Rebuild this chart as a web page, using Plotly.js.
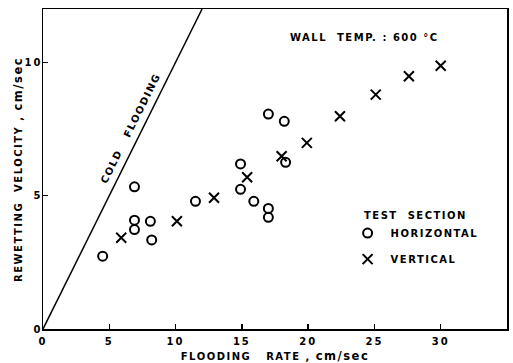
<!DOCTYPE html>
<html><head><meta charset="utf-8">
<script src="https://cdn.plot.ly/plotly-3.0.1.min.js"></script>
<style>
body{margin:0;padding:0;background:#fff}#chart{width:513px;height:363px}
.xtitle,.ytitle,.annotation-text,.legendtext{letter-spacing:1.5px}
.xtick text,.ytick text{letter-spacing:2px}
</style>
</head><body><div id="chart"></div>
<script>
// Data
const horizX = [4.5, 6.9, 6.9, 6.9, 8.1, 8.2, 11.5, 14.9, 14.9, 15.9, 17.0, 18.2, 18.3, 17.0, 17.0];
const horizY = [2.73, 5.33, 4.08, 3.73, 4.04, 3.34, 4.79, 6.19, 5.24, 4.79, 8.06, 7.79, 6.25, 4.52, 4.19];
const vertX = [5.9, 10.1, 12.9, 15.4, 18.0, 19.9, 22.4, 25.1, 27.6, 30.0];
const vertY = [3.42, 4.04, 4.92, 5.69, 6.48, 6.98, 7.98, 8.79, 9.48, 9.87];
const coldX = [0, 12];
const coldY = [0, 12];
const xTicks = [0, 5, 10, 15, 20, 25, 30, 35];
const yTicks = [0, 5, 10];

const F = 'DejaVu Sans, Arial, sans-serif';
const bold10 = {family: F, size: 10, color: '#000', weight: 'bold'};
const unit = '<span style="font-size:11.5px">cm/sec</span>';
const traces = [
  {x: coldX, y: coldY, mode: 'lines', line: {color: '#000', width: 1.5}, showlegend: false, hoverinfo: 'skip'},
  {x: horizX, y: horizY, mode: 'markers', name: 'HORIZONTAL', legendgroup: 'h',
   marker: {symbol: 'circle-open', size: 9, color: '#000', line: {width: 2, color: '#000'}}},
  {x: vertX, y: vertY, mode: 'markers', name: 'VERTICAL', legendgroup: 'v',
   marker: {symbol: 'x-thin-open', size: 10, color: '#000', line: {width: 2, color: '#000'}}}
];
const axisCommon = {
  showgrid: false, zeroline: false, showline: true, mirror: true,
  linecolor: '#000', linewidth: 1.5, ticks: 'inside', ticklen: 5, tickwidth: 1.5, tickcolor: '#000',
  tickfont: bold10
};
const layout = {
  width: 513, height: 363,
  margin: {l: 43, r: 6, t: 9, b: 34},
  paper_bgcolor: '#fff', plot_bgcolor: '#fff',
  font: {family: F, color: '#000'},
  xaxis: Object.assign({}, axisCommon, {
    range: [0, 35], tickvals: xTicks, ticktext: xTicks.map(String), ticklabelstandoff: 2,
    title: {text: 'FLOODING\u00a0\u00a0 RATE , ' + unit, font: bold10, standoff: 7}
  }),
  yaxis: Object.assign({}, axisCommon, {
    range: [0, 12], tickvals: yTicks, ticktext: yTicks.map(String), ticklabelstandoff: -3
  }),
  showlegend: true,
  legend: {
    x: 0.650, y: 0.345, xanchor: 'left', yanchor: 'top',
    bgcolor: 'rgba(0,0,0,0)', tracegroupgap: 7, itemwidth: 36,
    font: bold10
  },
  annotations: [
    {xref: 'paper', yref: 'paper', x: -0.054, y: 0.5, xanchor: 'center', yanchor: 'middle', showarrow: false,
     textangle: -90, text: 'REWETTING\u00a0 VELOCITY , ' + unit, font: bold10},
    {xref: 'paper', yref: 'paper', x: 0.692, y: 0.91, xanchor: 'center', yanchor: 'middle', showarrow: false,
     text: 'WALL\u00a0 TEMP. : 600 °C', font: bold10},
    {xref: 'paper', yref: 'paper', x: 0.687, y: 0.355, xanchor: 'left', yanchor: 'middle', showarrow: false,
     text: 'TEST\u00a0 SECTION', font: bold10},
    {xref: 'x', yref: 'y', x: 6.6, y: 7.51, showarrow: false, textangle: -63.5,
     text: 'COLD\u00a0\u00a0 FLOODING', font: bold10}
  ]
};
Plotly.newPlot('chart', traces, layout, {displayModeBar: false, staticPlot: true});
</script></body></html>
